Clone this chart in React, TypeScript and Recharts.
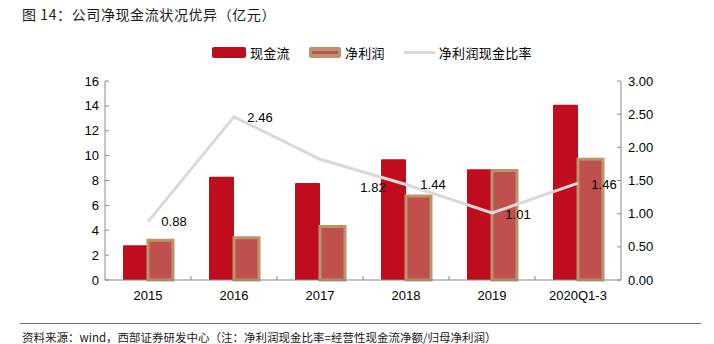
import React from 'react';
import { ComposedChart, Bar, Line, XAxis, YAxis, LabelList } from 'recharts';

const years = ['2015', '2016', '2017', '2018', '2019', '2020Q1-3'];
const cashFlow = [2.8, 8.3, 7.8, 9.7, 8.9, 14.1];
const netProfit = [3.2, 3.4, 4.3, 6.75, 8.8, 9.7];
const cashRatio = [0.88, 2.46, 1.82, 1.44, 1.01, 1.46];
const leftTicks = [0, 2, 4, 6, 8, 10, 12, 14, 16];
const rightTicks = [0, 0.5, 1, 1.5, 2, 2.5, 3];

const data = years.map((year, i) => ({
  year,
  cash: cashFlow[i],
  profit: netProfit[i],
  ratio: cashRatio[i],
}));

// label nudges for the ratio line (hand placed in the original)
const labelShift = [
  { dx: 26, dy: 0 },
  { dx: 26, dy: 1 },
  { dx: 53, dy: 28 },
  { dx: 27, dy: 0 },
  { dx: 26, dy: 1 },
  { dx: 26, dy: 1 },
];

const RED = '#c00d1e';
const TAN = '#b8956a';
const PROFIT_FILL = '#c0504d';
const GREY = '#d9d9d9';
const AXIS = '#898989';
const NUM_FONT = '"Liberation Sans", Arial, sans-serif';
const CJK_FONT = '"Noto Sans CJK SC", sans-serif';

const LeftTick = (props: any) => {
  const { x, y, payload } = props;
  return (
    <g>
      <line x1={x} x2={x + 4} y1={y} y2={y} stroke={AXIS} />
      <text x={x - 6} y={y} dy="0.35em" textAnchor="end" fontSize={13} fontFamily={NUM_FONT} fill="#000">
        {payload.value}
      </text>
    </g>
  );
};

const RightTick = (props: any) => {
  const { x, y, payload } = props;
  return (
    <g>
      <line x1={x - 4} x2={x} y1={y} y2={y} stroke={AXIS} />
      <text x={x + 7} y={y} dy="0.35em" textAnchor="start" fontSize={13} fontFamily={NUM_FONT} fill="#000">
        {Number(payload.value).toFixed(2)}
      </text>
    </g>
  );
};

const BottomTick = (props: any) => {
  const { x, y, payload, index } = props;
  return (
    <g>
      {index < years.length - 1 && (
        <line x1={x + 43} x2={x + 43} y1={y} y2={y - 4} stroke={AXIS} />
      )}
      <text x={x} y={y + 20} textAnchor="middle" fontSize={13} fontFamily={NUM_FONT} fill="#000">
        {payload.value}
      </text>
    </g>
  );
};

const RatioLabel = (props: any) => {
  const { x, y, value, index } = props;
  const s = labelShift[index] || { dx: 26, dy: 0 };
  return (
    <text
      x={x + s.dx}
      y={y + s.dy}
      dy="0.35em"
      textAnchor="middle"
      fontSize={13}
      fontFamily={NUM_FONT}
      fill="#000"
    >
      {Number(value).toFixed(2)}
    </text>
  );
};

const legendText: React.CSSProperties = {
  fontFamily: CJK_FONT,
  fontSize: 13,
  color: '#000',
  marginLeft: 4,
  letterSpacing: 0.3,
};

export default function App() {
  return (
    <div style={{ position: 'relative', width: 714, height: 344, background: '#fff', overflow: 'hidden' }}>
      <style>{'body{margin:0;}'}</style>
      <div
        style={{
          position: 'absolute',
          left: 22,
          top: 4,
          fontFamily: CJK_FONT,
          fontSize: 14,
          letterSpacing: 0.6,
          color: '#1a1a1a',
          whiteSpace: 'nowrap',
        }}
      >
        图 14：公司净现金流状况优异（亿元）
      </div>

      <div
        style={{
          position: 'absolute',
          left: 212,
          top: 43,
          display: 'flex',
          alignItems: 'center',
          height: 18,
          whiteSpace: 'nowrap',
        }}
      >
        <span style={{ display: 'inline-block', width: 34, height: 11, background: RED, borderRadius: 2 }} />
        <span style={legendText}>现金流</span>
        <span
          style={{
            display: 'inline-flex',
            alignItems: 'center',
            justifyContent: 'center',
            width: 32,
            height: 11,
            background: TAN,
            borderRadius: 2,
            marginLeft: 19,
          }}
        >
          <span style={{ display: 'inline-block', width: 26, height: 3, background: PROFIT_FILL }} />
        </span>
        <span style={legendText}>净利润</span>
        <span style={{ display: 'inline-block', width: 31, height: 3, background: GREY, marginLeft: 19 }} />
        <span style={legendText}>净利润现金比率</span>
      </div>

      <div style={{ position: 'absolute', left: 0, top: 0 }}>
        <ComposedChart
          width={714}
          height={344}
          data={data}
          margin={{ top: 81, right: 0, bottom: 0, left: 0 }}
          barGap={0}
        >
          <XAxis
            dataKey="year"
            height={64}
            stroke={AXIS}
            tickLine={false}
            tickSize={0}
            tickMargin={0}
            tick={<BottomTick />}
            interval={0}
          />
          <YAxis
            yAxisId="left"
            orientation="left"
            width={105}
            domain={[0, 16]}
            ticks={leftTicks}
            stroke={AXIS}
            tickLine={false}
            tickSize={0}
            tickMargin={0}
            tick={<LeftTick />}
            interval={0}
          />
          <YAxis
            yAxisId="right"
            orientation="right"
            width={93}
            domain={[0, 3]}
            ticks={rightTicks}
            stroke={AXIS}
            tickLine={false}
            tickSize={0}
            tickMargin={0}
            tick={<RightTick />}
            interval={0}
          />
          <Bar yAxisId="left" dataKey="cash" fill={RED} barSize={25} radius={[1, 1, 0, 0]} isAnimationActive={false} />
          <Bar
            yAxisId="left"
            dataKey="profit"
            fill={PROFIT_FILL}
            stroke={TAN}
            strokeWidth={3}
            barSize={25}
            isAnimationActive={false}
          />
          <Line
            yAxisId="right"
            dataKey="ratio"
            type="linear"
            stroke={GREY}
            strokeWidth={3}
            dot={false}
            activeDot={false}
            isAnimationActive={false}
          >
            <LabelList dataKey="ratio" content={<RatioLabel />} />
          </Line>
        </ComposedChart>
      </div>

      <div style={{ position: 'absolute', left: 20, top: 323, width: 681, height: 1, background: '#6e6e6e' }} />
      <div
        style={{
          position: 'absolute',
          left: 22,
          top: 329,
          fontFamily: CJK_FONT,
          fontSize: 11.5,
          color: '#1a1a1a',
          whiteSpace: 'nowrap',
        }}
      >
        资料来源：wind，西部证券研发中心（注：净利润现金比率=经营性现金流净额/归母净利润）
      </div>
    </div>
  );
}
